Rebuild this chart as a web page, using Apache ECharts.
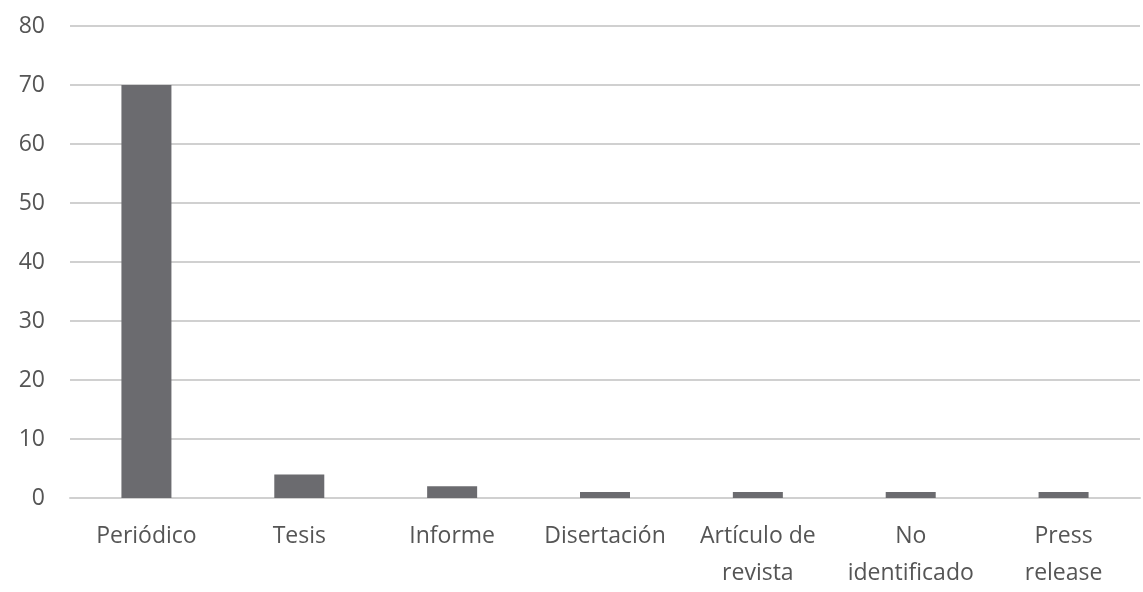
<!DOCTYPE html>
<html>
<head>
<meta charset="utf-8">
<script src="https://cdn.jsdelivr.net/npm/echarts@6/dist/echarts.min.js"></script>
<style>
  html, body { margin: 0; padding: 0; background: #fff; }
  #chart { width: 1143px; height: 592px; }
</style>
</head>
<body>
<div id="chart"></div>
<script>
// categorías y valores
const categories = ['Periódico', 'Tesis', 'Informe', 'Disertación', 'Artículo de\nrevista', 'No\nidentificado', 'Press\nrelease']
const values = [70, 4, 2, 1, 1, 1, 1]

const chart = echarts.init(document.getElementById('chart'))
chart.setOption({
  animation: false,
  grid: {
    left: 70,
    right: 3,
    top: 26,
    bottom: 91,
    containLabel: false
  },
  xAxis: {
    type: 'category',
    data: categories,
    axisLine: { lineStyle: { color: '#d0d0d0', width: 2 } },
    axisTick: { show: false },
    axisLabel: {
      color: '#555555',
      fontFamily: 'Open Sans',
      fontSize: 23,
      lineHeight: 37,
      margin: 20,
      interval: 0
    }
  },
  yAxis: {
    type: 'value',
    min: 0,
    max: 80,
    interval: 10,
    axisLine: { show: false },
    axisTick: { show: false },
    splitLine: { lineStyle: { color: '#d0d0d0', width: 2 } },
    axisLabel: {
      color: '#555555',
      fontFamily: 'Open Sans',
      fontSize: 23,
      margin: 25
    }
  },
  series: [
    {
      type: 'bar',
      data: values,
      barWidth: 50,
      itemStyle: { color: '#6b6b6f' }
    }
  ]
})
</script>
</body>
</html>
